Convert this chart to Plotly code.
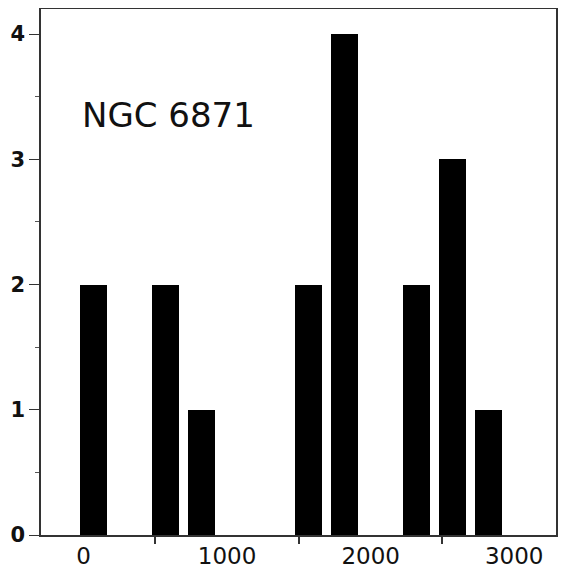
import plotly.graph_objects as go

# bin centres and counts
bin_centres = [70, 570, 820, 1570, 1820, 2320, 2570, 2820]
counts = [2, 2, 1, 2, 4, 2, 3, 1]
bar_width = 188

x_tick_values = [0, 1000, 2000, 3000]
x_tick_labels = ["0", "1000", "2000", "3000"]
x_minor_ticks = [500, 1500, 2500]
y_tick_values = [0, 1, 2, 3, 4]

fig = go.Figure()
fig.add_trace(
    go.Bar(
        x=bin_centres,
        y=counts,
        width=[bar_width] * len(bin_centres),
        marker=dict(color="black", line=dict(width=0)),
        showlegend=False,
    )
)

fig.add_annotation(
    x=-25,
    y=3.35,
    xref="x",
    yref="y",
    text="NGC 6871",
    showarrow=False,
    xanchor="left",
    yanchor="middle",
    font=dict(family="DejaVu Sans", size=34, color="#111111"),
)

fig.update_xaxes(
    range=[-296, 3291],
    tickvals=x_tick_values,
    ticktext=x_tick_labels,
    ticks="",
    ticklabelstandoff=0,
    tickfont=dict(family="DejaVu Sans", size=23, color="#111111"),
    minor=dict(tickvals=x_minor_ticks, ticks="outside", ticklen=7, tickwidth=1.5, tickcolor="#333333"),
    showline=True,
    linecolor="#333333",
    linewidth=1.5,
    mirror=True,
    showgrid=False,
    zeroline=False,
    automargin=False,
)
fig.update_yaxes(
    range=[0, 4.2],
    tickvals=y_tick_values,
    ticks="outside",
    ticklen=10,
    tickwidth=1.2,
    tickcolor="#333333",
    tickfont=dict(family="DejaVu Sans", size=21, color="#111111", weight="bold"),
    minor=dict(dtick=0.5, ticks="outside", ticklen=4, tickwidth=1, tickcolor="#555555"),
    showline=True,
    linecolor="#333333",
    linewidth=1.5,
    mirror=True,
    showgrid=False,
    zeroline=False,
    automargin=False,
)

# page body adds an 8px offset, so margins are shifted to compensate
fig.update_layout(
    width=570,
    height=585,
    margin=dict(l=33, r=22, t=1, b=58),
    paper_bgcolor="white",
    plot_bgcolor="white",
    bargap=0,
)

fig.write_html("out.html")
